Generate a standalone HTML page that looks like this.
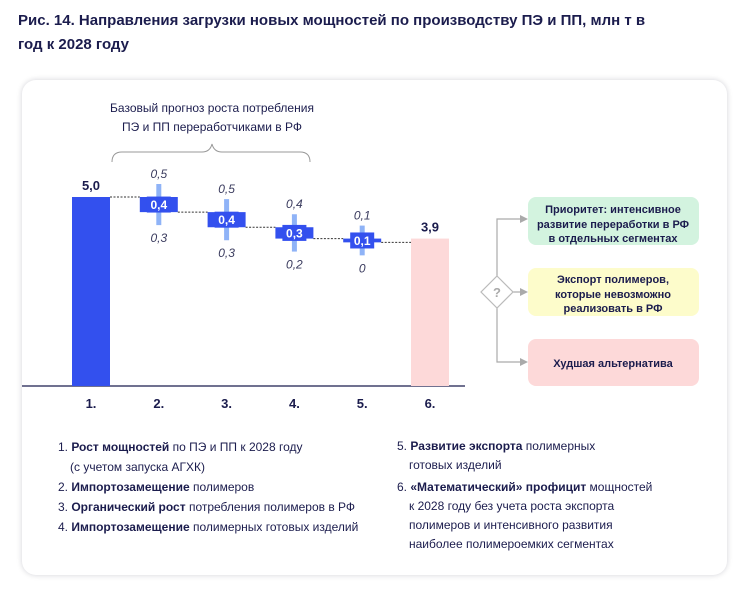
<!DOCTYPE html>
<html><head><meta charset="utf-8"><style>
body{margin:0;width:750px;height:596px;background:#fff;font-family:"Liberation Sans",sans-serif;color:#1b1c4d;position:relative;overflow:hidden}
.t{position:absolute;white-space:nowrap}
#card{position:absolute;left:22px;top:80px;width:705px;height:495px;border-radius:14px;box-shadow:0 0 6px rgba(0,0,40,.18);background:#fff}
.lg{position:absolute;font-size:12px;line-height:20px;color:#1b1c4d}
.lg b{font-weight:bold}
</style></head><body>
<div class="t" style="left:18px;top:9px;font-size:15px;font-weight:bold;line-height:24px;color:#1b1c4d">Рис. 14. Направления загрузки новых мощностей по производству ПЭ и ПП, млн т в<br>год к 2028 году</div>
<div id="card"></div>
<svg id="chart" width="750" height="596" style="position:absolute;left:0;top:0">
<g font-family="Liberation Sans, sans-serif">
<text x="212" y="112" text-anchor="middle" font-size="12" fill="#1b1c4d">Базовый прогноз роста потребления</text>
<text x="212" y="131" text-anchor="middle" font-size="12" fill="#1b1c4d">ПЭ и ПП переработчиками в РФ</text>
<path d="M112,162 Q112,152 122,152 L202,152 Q210,152 212,144 Q214,152 222,152 L300,152 Q310,152 310,162" fill="none" stroke="#999" stroke-width="1"/>
<line x1="22" y1="386" x2="465" y2="386" stroke="#1b1c4d" stroke-width="1.2"/>
<g id="marks"></g>
<g stroke="#aaa" fill="none" stroke-width="1.2">
<polyline points="497,276 497,219 524,219"/><polyline points="513,292 524,292"/><polyline points="497,308 497,362 524,362"/>
<path d="M520,215 L528,219 L520,223Z M520,288 L528,292 L520,296Z M520,358 L528,362 L520,366Z" fill="#aaa" stroke="none"/>
<path d="M497,276 L513,292 L497,308 L481,292Z" fill="#fff" stroke="#bbb"/>
</g>
<text x="497" y="297" text-anchor="middle" font-size="13" font-weight="bold" fill="#aaa">?</text>
<rect x="528" y="197" width="171" height="48" rx="8" fill="#d3f3df"/>
<rect x="528" y="268" width="171" height="48" rx="8" fill="#fdfccb"/>
<rect x="528" y="339" width="171" height="47" rx="8" fill="#fdd9d9"/>
<g font-size="11" font-weight="bold" fill="#1b1c4d" text-anchor="middle">
<text x="613" y="213">Приоритет: интенсивное</text><text x="613" y="228">развитие переработки в РФ</text><text x="613" y="242">в отдельных сегментах</text>
<text x="613" y="283">Экспорт полимеров,</text><text x="613" y="298">которые невозможно</text><text x="613" y="312">реализовать в РФ</text>
<text x="613" y="367">Худшая альтернатива</text>
</g>
</g></svg>
<div class="lg" style="left:58px;top:437px">
<div>1. <b>Рост мощностей</b> по ПЭ и ПП к 2028 году</div>
<div style="padding-left:12px">(с учетом запуска АГХК)</div>
<div>2. <b>Импортозамещение</b> полимеров</div>
<div>3. <b>Органический рост</b> потребления полимеров в РФ</div>
<div>4. <b>Импортозамещение</b> полимерных готовых изделий</div>
</div>
<div class="lg" style="left:397px;top:437px;line-height:19px">
<div>5. <b>Развитие экспорта</b> полимерных</div>
<div style="padding-left:12px">готовых изделий</div>
<div style="margin-top:3px">6. <b>«Математический» профицит</b> мощностей</div>
<div style="padding-left:12px">к 2028 году без учета роста экспорта</div>
<div style="padding-left:12px">полимеров и интенсивного развития</div>
<div style="padding-left:12px">наиболее полимероемких сегментах</div>
</div>
<script>
const categories=["1.","2.","3.","4.","5.","6."];
const totals=[5.0,null,null,null,null,3.9];
const deltas=[null,0.4,0.4,0.3,0.1,null];
const highs=[null,0.5,0.5,0.4,0.1,null];
const lows=[null,0.3,0.3,0.2,0,null];
const NS="http://www.w3.org/2000/svg";
const g=document.getElementById('marks');
const base=386,k=37.8,x0=91,dx=67.8,bw=38;
const y=v=>base-v*k, cx=i=>x0+i*dx;
function mk(t,a){const e=document.createElementNS(NS,t);for(const n in a)e.setAttribute(n,a[n]);g.appendChild(e);return e;}
let level=0,prevRight=0;
categories.forEach((c,i)=>{
  const lab=mk('text',{x:cx(i),y:408,'text-anchor':'middle','font-size':13,'font-weight':'bold',fill:'#1b1c4d'});lab.textContent=c;
  
  
  if(totals[i]!=null){
    const isLast=i===categories.length-1;
    if(i>0){const l=mk('line',{x1:prevRight,x2:cx(i)-bw/2,y1:y(level),y2:y(level),stroke:'#333','stroke-dasharray':'2,1.5'});}
    const r=mk('rect',{x:cx(i)-bw/2,y:y(totals[i]),width:bw,height:totals[i]*k,fill:isLast?'#fdd9d9':'#3350ee'});
    
    
    const v=mk('text',{x:cx(i),y:y(totals[i])-7,'text-anchor':'middle','font-size':13,'font-weight':'bold',fill:'#1b1c4d'});v.textContent=totals[i].toFixed(1).replace('.',',');
    
    
    level=totals[i];prevRight=cx(i)+bw/2;
  } else {
    const top=y(level),nl=level-deltas[i],bot=y(nl),mid=(top+bot)/2;
    const l=mk('line',{x1:prevRight,x2:cx(i)-bw/2,y1:top,y2:top,stroke:'#333','stroke-dasharray':'2,1.5'});
    const eT=top-13,eB=bot+13;
    const eb=mk('rect',{x:cx(i)-2.5,y:eT,width:5,height:eB-eT,fill:'#8fb3f7'});
    
    
    const h=Math.max(bot-top,3);
    const r=mk('rect',{x:cx(i)-bw/2,y:top,width:bw,height:h,fill:'#3350ee'});
    
    
    const lb=mk('rect',{x:cx(i)-12,y:mid-8,width:24,height:16,fill:'#3350ee'});
    
    
    const t=mk('text',{x:cx(i),y:mid+4.5,'text-anchor':'middle','font-size':12,'font-weight':'bold',fill:'#fff'});t.textContent=deltas[i].toFixed(1).replace('.',',');
    
    
    const hi=mk('text',{x:cx(i),y:eT-6,'text-anchor':'middle','font-size':12,'font-style':'italic',fill:'#3a3b5e'});hi.textContent=String(highs[i]).replace('.',',');
    
    
    const lo=mk('text',{x:cx(i),y:eB+17,'text-anchor':'middle','font-size':12,'font-style':'italic',fill:'#3a3b5e'});lo.textContent=String(lows[i]).replace('.',',');
    
    
    level=nl;prevRight=cx(i)+bw/2;
  }
});
</script>
</body></html>
